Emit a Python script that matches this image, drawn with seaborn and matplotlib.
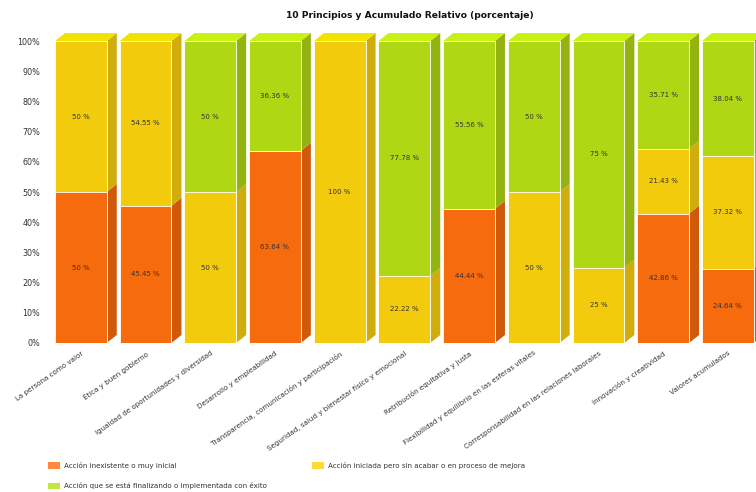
import numpy as np
import pandas as pd
import matplotlib
matplotlib.use("Agg")
import matplotlib.pyplot as plt
from matplotlib.patches import Polygon, Patch
import seaborn as sns

categories = [
    "La persona como valor",
    "Ética y buen gobierno",
    "Igualdad de oportunidades y diversidad",
    "Desarrollo y empleabilidad",
    "Transparencia, comunicación y participación",
    "Seguridad, salud y bienestar físico y emocional",
    "Retribución equitativa y justa",
    "Flexibilidad y equilibrio en las esferas vitales",
    "Corresponsabilidad en las relaciones laborales",
    "Innovación y creatividad",
    "Valores acumulados",
]
inexistente = [50, 45.45, 0, 63.64, 0, 0, 44.44, 0, 0, 42.86, 24.64]
iniciada = [50, 54.55, 50, 0, 100, 22.22, 0, 50, 25, 21.43, 37.32]
finalizando = [0, 0, 50, 36.36, 0, 77.78, 55.56, 50, 75, 35.71, 38.04]
series_names = [
    "Acción inexistente o muy inicial",
    "Acción iniciada pero sin acabar o en proceso de mejora",
    "Acción que se está finalizando o implementada con éxito",
]
yticks = [0, 10, 20, 30, 40, 50, 60, 70, 80, 90, 100]

front = ["#F66B0D", "#F2CB0C", "#B0D714"]
side = ["#D0590A", "#CEAD0C", "#93B410"]
top = ["#FF8A2A", "#F2E200", "#C8F012"]
legend_cols = ["#FF8A3C", "#FFD83A", "#BEE83C"]

sns.set_theme(style="white")
plt.rcParams["font.family"] = ["DejaVu Sans"]

c1 = np.array(inexistente)
c2 = c1 + np.array(iniciada)
c3 = c2 + np.array(finalizando)
df = pd.DataFrame({"cat": categories, "c1": c1, "c2": c2, "c3": c3})

fig = plt.figure(figsize=(7.56, 4.92), dpi=100)
ax = fig.add_axes([50 / 756, (492 - 343) / 492, 706 / 756, (343 - 29) / 492])

W = 0.8
for col, fc in zip(["c3", "c2", "c1"], [front[2], front[1], front[0]]):
    sns.barplot(data=df, x="cat", y=col, color=fc, saturation=1, width=W,
                edgecolor="white", linewidth=0.6, ax=ax, zorder=2)

dx, dy = 0.155, 2.65
segs = [(np.zeros(len(c1)), c1), (c1, c2), (c2, c3)]
for i in range(len(categories)):
    xr = i + W / 2
    xl = i - W / 2
    topmost = None
    for s, (lo, hi) in enumerate(segs):
        y0, y1 = lo[i], hi[i]
        if y1 - y0 <= 0:
            continue
        ax.add_patch(Polygon([(xr, y0), (xr + dx, y0 + dy), (xr + dx, y1 + dy), (xr, y1)],
                             closed=True, facecolor=side[s], edgecolor="none", zorder=1.5))
        topmost = (s, y1)
        vals = [inexistente, iniciada, finalizando][s]
        ax.text(i, (y0 + y1) / 2, f"{vals[i]:g} %", ha="center", va="center",
                fontsize=5.0, color="#333333", zorder=5)
    if topmost is not None:
        s, y1 = topmost
        ax.add_patch(Polygon([(xl, y1), (xl + dx, y1 + dy), (xr + dx, y1 + dy), (xr, y1)],
                             closed=True, facecolor=top[s], edgecolor="none", zorder=1.5))

ax.set_xlim(-0.477, 10.435)
ax.set_ylim(0, 104)
ax.set_yticks(yticks)
ax.set_yticklabels([f"{t}%" for t in yticks], fontsize=5.8, color="#333333")
ax.tick_params(axis="y", length=0, pad=7)
ax.tick_params(axis="x", length=0, pad=5)
ax.set_xticks(range(len(categories)))
ax.set_xticklabels(categories, rotation=35, ha="right", rotation_mode="anchor",
                   fontsize=5.1, color="#333333")
ax.set_xlabel("")
ax.set_ylabel("")
for sp in ax.spines.values():
    sp.set_visible(False)

fig.text(410 / 756, 1 - 15 / 492, "10 Principios y Acumulado Relativo (porcentaje)",
         ha="center", va="center", fontsize=6.6, fontweight="bold", color="#111111")

h = [Patch(facecolor=legend_cols[k], edgecolor="none") for k in range(3)]
common = dict(frameon=False, fontsize=5.1, handlelength=1.7, handleheight=1.0,
              handletextpad=0.5, borderpad=0, borderaxespad=0)
leg1 = fig.legend([h[0], h[2]], [series_names[0], series_names[2]],
                  loc="upper left", bbox_to_anchor=(48 / 756, 1 - 462 / 492),
                  labelspacing=1.9, **common)
leg2 = fig.legend([h[1]], [series_names[1]],
                  loc="upper left", bbox_to_anchor=(312 / 756, 1 - 462 / 492),
                  **common)
for lg in (leg1, leg2):
    for t in lg.get_texts():
        t.set_color("#333333")

fig.savefig("out.png", dpi=100)
